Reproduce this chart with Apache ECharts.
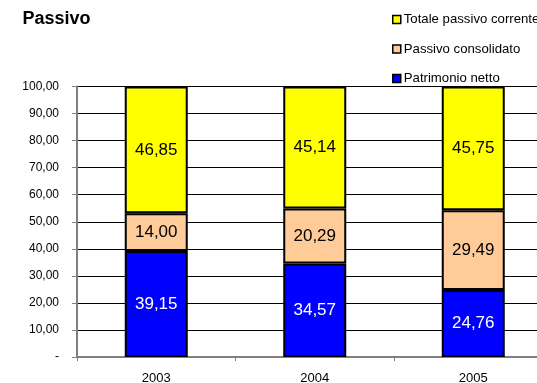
<!DOCTYPE html>
<html>
<head>
<meta charset="utf-8">
<title>Passivo</title>
<script src="https://cdn.jsdelivr.net/npm/echarts@6/dist/echarts.min.js"></script>
<style>
  html, body { margin: 0; padding: 0; background: #fff; }
  #chart { width: 537px; height: 383px; }
</style>
</head>
<body>
<div id="chart"></div>
<script>
// Years on the category axis
const years = ['2003', '2004', '2005'];

// Liability composition, percent of total
const patrimonioNetto = [39.15, 34.57, 24.76];
const passivoConsolidato = [14.00, 20.29, 29.49];
const totalePassivoCorrente = [46.85, 45.14, 45.75];

// Value axis range
const yMin = 0;
const yMax = 100;
const yStep = 10;

const FONT = '"Liberation Sans", Arial, sans-serif';

// Italian number format: comma as decimal separator
function fmt(v) {
  return Number(v).toFixed(2).replace('.', ',');
}

function segment(name, data, color, labelColor) {
  return {
    name: name,
    type: 'bar',
    stack: 'passivo',
    data: data,
    barWidth: 63,
    itemStyle: { color: color, borderColor: '#000', borderWidth: 2 },
    label: {
      show: true,
      position: 'inside',
      formatter: p => fmt(p.value),
      color: labelColor,
      fontFamily: FONT,
      fontSize: 17
    },
    emphasis: { disabled: true }
  };
}

const chart = echarts.init(document.getElementById('chart'), null, { renderer: 'canvas' });

chart.setOption({
  animation: false,
  backgroundColor: '#fff',
  title: {
    text: 'Passivo',
    left: 22.5,
    top: 10,
    padding: 0,
    textStyle: { fontFamily: FONT, fontSize: 18, fontWeight: 'bold', color: '#000' }
  },
  legend: {
    orient: 'vertical',
    left: 392,
    top: 13,
    padding: 0,
    itemWidth: 8,
    itemHeight: 8,
    itemGap: 16.5,
    icon: 'rect',
    selectedMode: false,
    data: ['Totale passivo corrente', 'Passivo consolidato', 'Patrimonio netto'],
    itemStyle: { borderColor: '#000', borderWidth: 1.5 },
    textStyle: { fontFamily: FONT, fontSize: 13.2, lineHeight: 12, color: '#000', padding: [0, 0, 0, -2] }
  },
  grid: {
    left: 77,
    top: 86.5,
    width: 475.5,
    height: 270.5,
    containLabel: false,
    outerBoundsMode: 'none'
  },
  xAxis: {
    type: 'category',
    data: years,
    axisLine: { lineStyle: { color: '#808080', width: 2 } },
    axisTick: { show: true, length: 4, lineStyle: { color: '#808080', width: 1 } },
    axisLabel: { fontFamily: FONT, fontSize: 13, color: '#000', margin: 15 }
  },
  yAxis: {
    type: 'value',
    min: yMin,
    max: yMax,
    interval: yStep,
    axisLine: { show: true, lineStyle: { color: '#808080', width: 2 } },
    axisTick: { show: true, length: 5, lineStyle: { color: '#808080', width: 1 } },
    splitLine: { show: true, lineStyle: { color: '#000', width: 1 } },
    axisLabel: {
      fontFamily: FONT,
      fontSize: 12,
      color: '#000',
      margin: 18,
      formatter: v => (v === 0 ? '-' : fmt(v))
    }
  },
  series: [
    segment('Patrimonio netto', patrimonioNetto, '#0000FF', '#fff'),
    segment('Passivo consolidato', passivoConsolidato, '#FFCC99', '#000'),
    segment('Totale passivo corrente', totalePassivoCorrente, '#FFFF00', '#000')
  ]
});
</script>
</body>
</html>
